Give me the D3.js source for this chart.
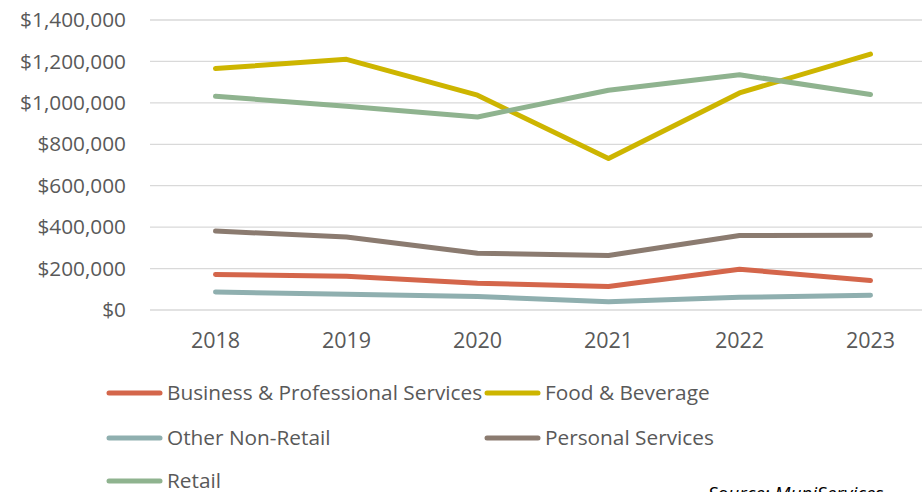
<!DOCTYPE html>
<html><head><meta charset="utf-8">
<script src="https://cdn.jsdelivr.net/npm/d3@7"></script>
<style>body{margin:0;background:#fff;overflow:hidden}svg{display:block}</style>
</head><body><div id="chart"></div>
<script>
const years = ["2018","2019","2020","2021","2022","2023"];
const yTicks = [0,200000,400000,600000,800000,1000000,1200000,1400000];
const seriesNames = ["Business & Professional Services","Food & Beverage","Other Non-Retail","Personal Services","Retail"];
const business = [171000,163000,129000,113000,197000,142000];
const food = [1166000,1210000,1037000,731000,1048000,1235000];
const otherNonRetail = [87000,76000,65000,40000,61000,71000];
const personal = [381000,352000,274000,263000,360000,361000];
const retail = [1032000,984000,932000,1061000,1136000,1040000];
const colors = ["#D4664B","#CDB500","#8FAFAF","#8B7B70","#8FB38F"];
const seriesValues = [business, food, otherNonRetail, personal, retail];
const drawOrder = [0,1,2,3,4];

const W=922,H=492;
const font = "'Open Sans',sans-serif";
const svg = d3.select("#chart").append("svg").attr("width",W).attr("height",H);
const x = d3.scaleBand().domain(years).range([150,936]);
const y = d3.scaleLinear().domain([0,1400000]).range([310,20]);

svg.append("g").selectAll("line").data(yTicks).join("line")
  .attr("x1",150).attr("x2",W).attr("y1",d=>y(d)).attr("y2",d=>y(d))
  .attr("stroke","#d9d9d9").attr("stroke-width",1.3);

const fmt = d=>"$"+d3.format(",")(d);
const yAxis = svg.append("g").attr("transform","translate(150,0)")
  .call(d3.axisLeft(y).tickValues(yTicks).tickFormat(fmt).tickSize(0).tickPadding(24));
yAxis.select(".domain").remove();
yAxis.selectAll("text").attr("font-family",font).attr("font-size",20.8).attr("fill","#595959");

const xAxis = svg.append("g").attr("transform","translate(0,310)")
  .call(d3.axisBottom(x).tickSize(0).tickPadding(23));
xAxis.select(".domain").remove();
xAxis.selectAll("text").attr("font-family",font).attr("font-size",21.5).attr("fill","#595959");

const line = d3.line().x((d,i)=>x(years[i])+x.bandwidth()/2).y(d=>y(d));
drawOrder.forEach(i=>{
  svg.append("path").attr("d",line(seriesValues[i])).attr("fill","none")
    .attr("stroke",colors[i]).attr("stroke-width",5).attr("stroke-linecap","round").attr("stroke-linejoin","round");
});

const legendPos = [[107,393],[485,393],[107,438],[485,438],[107,481]];
seriesNames.forEach((n,i)=>{
  const [lx,ly]=legendPos[i];
  svg.append("line").attr("x1",lx+2).attr("x2",lx+53).attr("y1",ly).attr("y2",ly)
    .attr("stroke",colors[i]).attr("stroke-width",5).attr("stroke-linecap","round");
  svg.append("text").attr("x",lx+60).attr("y",ly).attr("dy","0.35em")
    .attr("font-family",font).attr("font-size",20.8).attr("fill","#595959").text(n);
});
svg.append("text").attr("x",708).attr("y",500).attr("font-family",font).attr("font-size",19)
  .attr("font-style","italic").attr("fill","#000").text("Source: MuniServices");
</script></body></html>
